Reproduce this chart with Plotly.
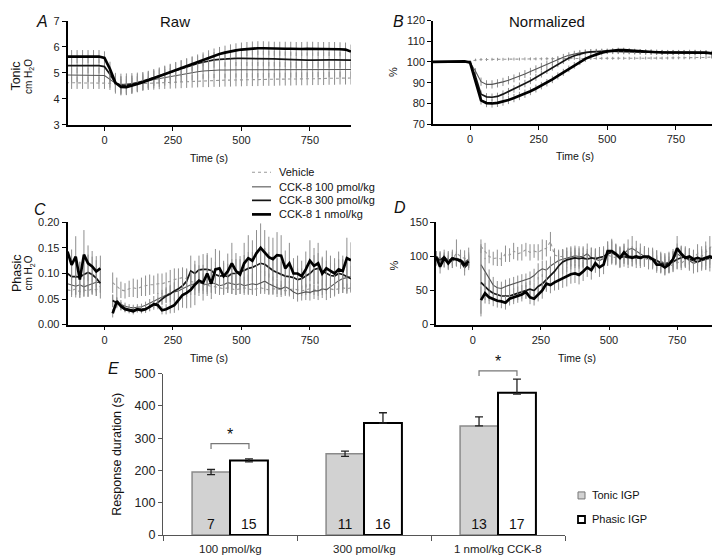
import plotly.graph_objects as go

# ---------------- DATA ----------------
# Panels A/B: time grid (s)
t_ab = list(range(-140, 901, 20))

A_veh = [4.62, 4.62, 4.62, 4.62, 4.62, 4.62, 4.62,
         4.62, 4.6, 4.56, 4.55, 4.56, 4.57, 4.58, 4.59, 4.6, 4.61, 4.62, 4.63, 4.64, 4.65, 4.66,
         4.67, 4.68, 4.69, 4.7, 4.7, 4.71, 4.71, 4.72, 4.72, 4.73, 4.73, 4.74, 4.74, 4.74, 4.75,
         4.75, 4.75, 4.76, 4.76, 4.76, 4.77, 4.77, 4.77, 4.78, 4.78, 4.78, 4.79, 4.79, 4.8, 4.8, 4.8]
A_100 = [4.92, 4.92, 4.92, 4.92, 4.92, 4.92, 4.92,
         4.9, 4.75, 4.6, 4.55, 4.56, 4.59, 4.63, 4.67, 4.71, 4.75, 4.79, 4.83, 4.87, 4.91, 4.95,
         4.98, 5.01, 5.04, 5.07, 5.09, 5.1, 5.11, 5.11, 5.12, 5.12, 5.12, 5.12, 5.12, 5.12, 5.12,
         5.12, 5.12, 5.12, 5.12, 5.12, 5.12, 5.12, 5.12, 5.13, 5.13, 5.13, 5.13, 5.13, 5.13, 5.13, 5.13]
A_300 = [5.28, 5.28, 5.28, 5.28, 5.28, 5.28, 5.28,
         5.24, 4.95, 4.6, 4.52, 4.52, 4.56, 4.62, 4.68, 4.75, 4.82, 4.89, 4.96, 5.03, 5.1, 5.17,
         5.24, 5.3, 5.36, 5.41, 5.46, 5.5, 5.52, 5.54, 5.55, 5.56, 5.56, 5.56, 5.56, 5.56, 5.55,
         5.55, 5.54, 5.53, 5.52, 5.5, 5.49, 5.49, 5.49, 5.49, 5.5, 5.5, 5.5, 5.5, 5.5, 5.49, 5.49]
A_1n = [5.63, 5.63, 5.63, 5.63, 5.63, 5.63, 5.63,
        5.58, 5.15, 4.62, 4.46, 4.45, 4.5, 4.57, 4.64, 4.72, 4.8, 4.88, 4.96, 5.04, 5.12, 5.2,
        5.28, 5.36, 5.44, 5.52, 5.6, 5.67, 5.73, 5.78, 5.83, 5.87, 5.9, 5.92, 5.94, 5.95, 5.95,
        5.94, 5.93, 5.93, 5.93, 5.93, 5.92, 5.92, 5.93, 5.93, 5.92, 5.92, 5.92, 5.92, 5.91, 5.9, 5.82]

A_veh_err = [0.24, 0.24, 0.24, 0.24, 0.24, 0.24, 0.24,
             0.24, 0.26, 0.3, 0.32, 0.32, 0.3, 0.28, 0.27, 0.26, 0.26, 0.25, 0.25, 0.25, 0.25, 0.25,
             0.25, 0.25, 0.25, 0.25, 0.25, 0.25, 0.25, 0.25, 0.25, 0.25, 0.25, 0.25, 0.25, 0.25, 0.25,
             0.25, 0.25, 0.25, 0.25, 0.25, 0.25, 0.25, 0.25, 0.25, 0.25, 0.25, 0.25, 0.25, 0.25, 0.25, 0.25]
A_100_err = [0.28, 0.28, 0.28, 0.28, 0.28, 0.28, 0.28,
             0.28, 0.32, 0.4, 0.42, 0.42, 0.4, 0.38, 0.36, 0.35, 0.34, 0.33, 0.32, 0.31, 0.3, 0.3,
             0.3, 0.3, 0.3, 0.3, 0.3, 0.3, 0.3, 0.3, 0.3, 0.3, 0.3, 0.3, 0.3, 0.3, 0.3,
             0.3, 0.3, 0.3, 0.3, 0.3, 0.3, 0.3, 0.3, 0.3, 0.3, 0.3, 0.3, 0.3, 0.3, 0.3, 0.3]
A_300_err = [0.3, 0.3, 0.3, 0.3, 0.3, 0.3, 0.3,
             0.3, 0.32, 0.34, 0.34, 0.34, 0.34, 0.34, 0.33, 0.33, 0.33, 0.32, 0.32, 0.32, 0.32, 0.32,
             0.31, 0.31, 0.3, 0.3, 0.3, 0.3, 0.3, 0.3, 0.3, 0.3, 0.3, 0.3, 0.3, 0.3, 0.3,
             0.3, 0.3, 0.3, 0.3, 0.3, 0.3, 0.3, 0.3, 0.3, 0.3, 0.3, 0.3, 0.3, 0.3, 0.3, 0.3]
A_1n_err = [0.25, 0.25, 0.25, 0.25, 0.25, 0.25, 0.25,
            0.25, 0.28, 0.3, 0.3, 0.3, 0.3, 0.3, 0.3, 0.3, 0.29, 0.29, 0.29, 0.28, 0.28, 0.28,
            0.28, 0.28, 0.27, 0.27, 0.27, 0.27, 0.27, 0.27, 0.27, 0.27, 0.27, 0.27, 0.27, 0.27, 0.27,
            0.27, 0.27, 0.27, 0.27, 0.27, 0.27, 0.27, 0.27, 0.27, 0.27, 0.27, 0.27, 0.27, 0.27, 0.27, 0.27]

B_veh = [100, 100, 100, 100, 100, 100, 100,
         100.5, 101, 101.2, 101.2, 101.3, 101.3, 101.3, 101.4, 101.4, 101.4, 101.5, 101.5, 101.5,
         101.5, 101.6, 101.6, 101.6, 101.6, 101.7, 101.7, 101.7, 101.7, 101.8, 101.8, 101.8, 101.8,
         101.8, 101.8, 101.8, 101.8, 101.8, 101.9, 101.9, 101.9, 101.9, 101.9, 101.9, 102, 102, 102,
         102, 102, 102.1, 102.2, 102.4, 102.8]
B_100 = [100, 100, 100, 100, 100, 100.1, 100.2,
         99.8, 95.5, 90.5, 89.2, 89.2, 89.7, 90.4, 91.2, 92.1, 93.1, 94.2, 95.4, 96.6, 97.8, 99,
         100.2, 101.3, 102.3, 103.2, 103.9, 104.4, 104.7, 104.9, 105, 105.1, 105.1, 105, 105,
         104.9, 104.9, 104.8, 104.8, 104.7, 104.7, 104.6, 104.6, 104.5, 104.5, 104.5, 104.4, 104.4,
         104.3, 104.3, 104.2, 104, 103.6]
B_300 = [100, 100, 100, 100, 100, 100.1, 100.2,
         99.7, 93, 84.5, 83.2, 83, 83.4, 84.5, 85.7, 87, 88.3, 89.6, 91, 92.6, 94.2, 95.8,
         97.4, 99, 100.5, 101.9, 103, 103.9, 104.5, 104.9, 105.1, 105.2, 105.2, 105.2, 105.1,
         105.1, 105, 105, 104.9, 104.9, 104.8, 104.8, 104.7, 104.7, 104.7, 104.7, 104.6, 104.6,
         104.6, 104.5, 104.4, 104.2, 103.6]
B_1n = [100, 100, 100, 100, 100, 100.1, 100.3,
        99.8, 91, 81.5, 80.2, 80, 80.3, 80.9, 81.7, 82.6, 83.6, 84.7, 85.9, 87.2, 88.6, 90,
        91.6, 93.3, 95, 96.7, 98.4, 100, 101.5, 102.7, 103.7, 104.5, 105.1, 105.5, 105.7, 105.7,
        105.5, 105.2, 105, 104.9, 104.8, 104.7, 104.6, 104.6, 104.6, 104.6, 104.6, 104.7, 104.7,
        104.6, 104.5, 104.2, 103.3]

B_veh_err = [0, 0, 0, 0, 0, 0, 0,
             0.3, 0.6, 0.7, 0.7, 0.7, 0.7, 0.7, 0.7, 0.7, 0.7, 0.7, 0.7, 0.7, 0.7, 0.7,
             0.7, 0.7, 0.7, 0.7, 0.7, 0.7, 0.7, 0.7, 0.7, 0.7, 0.7, 0.7, 0.7, 0.7, 0.7,
             0.7, 0.7, 0.7, 0.7, 0.7, 0.7, 0.7, 0.7, 0.7, 0.7, 0.7, 0.7, 0.7, 0.7, 0.7, 0.7]
B_100_err = [0, 0, 0, 0, 0, 0, 0,
             0.3, 1.5, 2, 2, 2, 2, 2, 2, 1.9, 1.9, 1.9, 1.8, 1.8, 1.8, 1.7,
             1.7, 1.6, 1.6, 1.5, 1.5, 1.4, 1.4, 1.3, 1.3, 1.2, 1.2, 1.2, 1.2, 1.2, 1.2,
             1.2, 1.2, 1.2, 1.2, 1.2, 1.2, 1.2, 1.2, 1.2, 1.2, 1.2, 1.2, 1.2, 1.2, 1.2, 1.2]
B_300_err = [0, 0, 0, 0, 0, 0, 0,
             0.3, 1.3, 1.8, 1.8, 1.8, 1.8, 1.8, 1.8, 1.8, 1.8, 1.8, 1.7, 1.7, 1.7, 1.6,
             1.6, 1.5, 1.5, 1.4, 1.4, 1.3, 1.3, 1.2, 1.2, 1.2, 1.1, 1.1, 1.1, 1.1, 1.1,
             1.1, 1.1, 1.1, 1.1, 1.1, 1.1, 1.1, 1.1, 1.1, 1.1, 1.1, 1.1, 1.1, 1.1, 1.1, 1.1]
B_1n_err = [0, 0, 0, 0, 0, 0, 0,
            0.3, 1.5, 2, 2, 2, 2, 2, 2, 2, 2, 2, 1.9, 1.9, 1.8, 1.8,
            1.8, 1.7, 1.7, 1.6, 1.6, 1.5, 1.5, 1.4, 1.4, 1.3, 1.3, 1.2, 1.2, 1.2, 1.2,
            1.2, 1.2, 1.2, 1.2, 1.2, 1.2, 1.2, 1.2, 1.2, 1.2, 1.2, 1.2, 1.2, 1.2, 1.2, 1.2]

# Panels C/D: pre-infusion and post-infusion time points (s)
t_pre = [-135, -120, -105, -90, -75, -60, -45, -30, -15]
t_post = list(range(30, 901, 15))

C_veh_pre = [0.068, 0.066, 0.07, 0.064, 0.068, 0.066, 0.07, 0.068, 0.075]
C_100_pre = [0.08, 0.078, 0.075, 0.078, 0.074, 0.077, 0.08, 0.083, 0.082]
C_300_pre = [0.1, 0.094, 0.094, 0.093, 0.098, 0.102, 0.098, 0.091, 0.081]
C_1n_pre = [0.143, 0.117, 0.133, 0.088, 0.137, 0.12, 0.114, 0.104, 0.11]
C_veh_pre_err = [0.012, 0.012, 0.012, 0.012, 0.012, 0.012, 0.012, 0.012, 0.012]
C_100_pre_err = [0.02, 0.02, 0.022, 0.02, 0.02, 0.022, 0.02, 0.02, 0.02]
C_300_pre_err = [0.03, 0.03, 0.035, 0.03, 0.035, 0.035, 0.035, 0.035, 0.03]
C_1n_pre_err = [0.02, 0.03, 0.04, 0.035, 0.048, 0.035, 0.03, 0.03, 0.025]

C_veh = [0.082, 0.074, 0.068, 0.066, 0.07, 0.072, 0.07, 0.074, 0.076, 0.078,
         0.078, 0.08, 0.08, 0.082, 0.085, 0.088, 0.09, 0.092, 0.09, 0.085,
         0.082, 0.08, 0.078, 0.076, 0.075, 0.074, 0.072, 0.07, 0.072, 0.07,
         0.068, 0.07, 0.072, 0.07, 0.068, 0.07, 0.072, 0.07, 0.068, 0.07,
         0.07, 0.068, 0.066, 0.068, 0.07, 0.068, 0.066, 0.068, 0.07, 0.068,
         0.066, 0.068, 0.07, 0.07, 0.068, 0.07, 0.072, 0.07, 0.072]
C_100 = [0.046, 0.044, 0.04, 0.036, 0.034, 0.033, 0.034, 0.035, 0.038, 0.042,
         0.046, 0.05, 0.054, 0.058, 0.062, 0.064, 0.066, 0.07, 0.074, 0.078,
         0.08, 0.082, 0.08, 0.078, 0.082, 0.08, 0.076, 0.078, 0.082, 0.08,
         0.078, 0.08, 0.076, 0.078, 0.08, 0.078, 0.082, 0.085, 0.08, 0.076,
         0.072, 0.07, 0.074, 0.07, 0.064, 0.06, 0.062, 0.064, 0.063, 0.066,
         0.066, 0.07, 0.068, 0.074, 0.08, 0.086, 0.09, 0.092, 0.094]
C_300 = [0.047, 0.042, 0.036, 0.032, 0.03, 0.029, 0.03, 0.03, 0.031, 0.034,
         0.038, 0.043, 0.05, 0.056, 0.06, 0.066, 0.07, 0.076, 0.085, 0.105,
         0.1, 0.107, 0.108, 0.108, 0.106, 0.098, 0.095, 0.096, 0.094, 0.1,
         0.1, 0.104, 0.106, 0.11, 0.112, 0.116, 0.12, 0.118, 0.112, 0.106,
         0.102, 0.098, 0.095, 0.094, 0.092, 0.088, 0.09, 0.095, 0.1, 0.108,
         0.11, 0.105, 0.1, 0.096, 0.095, 0.1, 0.098, 0.094, 0.09]
C_1n = [0.022, 0.046, 0.036, 0.03, 0.028, 0.026, 0.03, 0.028, 0.03, 0.035,
        0.04, 0.038, 0.028, 0.03, 0.034, 0.038, 0.048, 0.058, 0.062, 0.068,
        0.078, 0.086, 0.082, 0.1, 0.08, 0.108, 0.11, 0.095, 0.104, 0.12,
        0.105, 0.098, 0.12, 0.13, 0.125, 0.14, 0.15, 0.14, 0.132, 0.128,
        0.136, 0.135, 0.11, 0.12, 0.1, 0.1, 0.095, 0.108, 0.125, 0.115,
        0.12, 0.1, 0.11, 0.105, 0.1, 0.108, 0.105, 0.13, 0.126]

C_veh_err = [0.02, 0.018, 0.016, 0.015, 0.016, 0.018, 0.018, 0.018, 0.02, 0.02,
             0.018, 0.02, 0.02, 0.02, 0.022, 0.022, 0.02, 0.02, 0.018, 0.016,
             0.015, 0.014, 0.012, 0.012, 0.012, 0.012, 0.01, 0.01, 0.01, 0.01,
             0.01, 0.01, 0.01, 0.01, 0.01, 0.01, 0.01, 0.01, 0.01, 0.01,
             0.01, 0.01, 0.01, 0.01, 0.01, 0.01, 0.01, 0.01, 0.01, 0.01,
             0.01, 0.01, 0.01, 0.01, 0.01, 0.01, 0.01, 0.01, 0.01]
C_100_err = [0.012, 0.01, 0.008, 0.007, 0.006, 0.006, 0.006, 0.006, 0.007, 0.008,
             0.01, 0.012, 0.014, 0.015, 0.016, 0.018, 0.018, 0.02, 0.02, 0.02,
             0.022, 0.02, 0.02, 0.022, 0.02, 0.02, 0.018, 0.02, 0.02, 0.02,
             0.02, 0.02, 0.018, 0.02, 0.02, 0.022, 0.022, 0.02, 0.02, 0.018,
             0.018, 0.016, 0.015, 0.015, 0.014, 0.015, 0.015, 0.016, 0.016, 0.016,
             0.018, 0.018, 0.02, 0.022, 0.025, 0.025, 0.028, 0.03, 0.03]
C_300_err = [0.012, 0.01, 0.008, 0.007, 0.006, 0.006, 0.006, 0.006, 0.007, 0.008,
             0.009, 0.01, 0.012, 0.014, 0.016, 0.018, 0.02, 0.022, 0.025, 0.03,
             0.025, 0.028, 0.03, 0.028, 0.025, 0.025, 0.022, 0.025, 0.025, 0.028,
             0.028, 0.03, 0.03, 0.032, 0.03, 0.032, 0.035, 0.032, 0.03, 0.028,
             0.028, 0.025, 0.025, 0.025, 0.022, 0.022, 0.02, 0.022, 0.025, 0.028,
             0.03, 0.028, 0.025, 0.025, 0.025, 0.028, 0.03, 0.028, 0.025]
C_1n_err = [0.008, 0.01, 0.008, 0.006, 0.006, 0.006, 0.006, 0.006, 0.007, 0.008,
            0.008, 0.008, 0.008, 0.01, 0.012, 0.015, 0.02, 0.025, 0.03, 0.035,
            0.04, 0.03, 0.035, 0.04, 0.03, 0.04, 0.035, 0.03, 0.035, 0.04,
            0.035, 0.03, 0.04, 0.045, 0.04, 0.045, 0.048, 0.045, 0.04, 0.042,
            0.045, 0.04, 0.035, 0.04, 0.03, 0.035, 0.03, 0.035, 0.04, 0.035,
            0.04, 0.03, 0.035, 0.03, 0.03, 0.035, 0.03, 0.04, 0.035]

D_veh_pre = [100, 96, 92, 98, 95, 105, 100, 97, 98]
D_100_pre = [96, 98, 94, 96, 93, 98, 95, 92, 96]
D_300_pre = [98, 94, 100, 92, 98, 96, 92, 84, 90]
D_1n_pre = [100, 85, 98, 90, 97, 96, 94, 88, 93]
D_veh_pre_err = [8, 10, 8, 10, 12, 20, 10, 12, 15]
D_100_pre_err = [10, 10, 10, 10, 10, 10, 10, 10, 10]
D_300_pre_err = [10, 12, 10, 10, 12, 10, 10, 12, 10]
D_1n_pre_err = [8, 10, 8, 10, 10, 10, 8, 10, 10]

D_veh = [115, 108, 100, 97, 98, 96, 104, 102, 108, 104,
         106, 110, 106, 108, 106, 110, 112, 122, 102, 100,
         100, 98, 97, 100, 96, 95, 98, 96, 99, 100,
         95, 102, 100, 98, 104, 100, 98, 102, 100, 96,
         98, 94, 96, 92, 94, 90, 86, 88, 92, 90,
         95, 100, 98, 104, 100, 106, 112, 118, 125]
D_100 = [88, 78, 66, 58, 54, 53, 56, 58, 60, 62,
         64, 65, 68, 72, 78, 82, 80, 86, 90, 94,
         96, 98, 100, 101, 100, 100, 104, 98, 96, 94,
         97, 102, 108, 104, 100, 104, 110, 112, 108, 104,
         100, 96, 98, 94, 92, 90, 92, 96, 104, 100,
         98, 94, 90, 92, 96, 98, 96, 100, 98]
D_300 = [62, 56, 50, 46, 44, 42, 42, 42, 44, 46,
         48, 50, 52, 50, 56, 60, 66, 72, 78, 86,
         92, 95, 97, 98, 97, 98, 96, 98, 97, 99,
         100, 104, 106, 102, 98, 100, 98, 100, 98, 98,
         100, 98, 96, 94, 90, 88, 90, 92, 96, 98,
         100, 96, 94, 92, 94, 96, 98, 97, 96]
D_1n = [36, 46, 40, 37, 35, 34, 32, 38, 40, 42,
        44, 48, 40, 38, 44, 50, 60, 58, 62, 65,
        68, 70, 74, 75, 73, 78, 84, 80, 90, 84,
        88, 108, 108, 104, 98, 106, 100, 98, 100, 98,
        100, 100, 96, 88, 88, 84, 88, 96, 112, 104,
        98, 100, 96, 98, 96, 98, 100, 98, 96]

D_veh_err = [10, 12, 10, 10, 12, 10, 12, 10, 12, 10,
             12, 10, 12, 10, 12, 15, 12, 14, 10, 10,
             10, 10, 10, 10, 10, 10, 10, 10, 10, 10,
             10, 10, 10, 10, 10, 10, 10, 10, 10, 10,
             10, 10, 10, 10, 10, 10, 10, 10, 10, 10,
             10, 12, 12, 14, 15, 16, 18, 18, 18]
D_100_err = [30, 20, 15, 12, 10, 10, 10, 10, 10, 10,
             10, 10, 10, 10, 12, 12, 14, 14, 14, 14,
             15, 15, 15, 15, 15, 15, 15, 15, 15, 15,
             15, 15, 18, 15, 15, 15, 15, 18, 15, 15,
             15, 15, 15, 15, 15, 15, 15, 15, 15, 15,
             15, 15, 15, 15, 15, 18, 18, 18, 18]
D_300_err = [50, 20, 15, 12, 10, 10, 10, 10, 10, 10,
             10, 12, 12, 12, 14, 14, 16, 16, 18, 18,
             18, 18, 16, 15, 15, 15, 15, 15, 15, 15,
             15, 18, 18, 15, 15, 15, 15, 15, 15, 15,
             15, 15, 15, 15, 15, 15, 15, 15, 15, 15,
             15, 15, 15, 15, 15, 15, 15, 15, 15]
D_1n_err = [20, 15, 10, 10, 10, 10, 10, 10, 10, 10,
            10, 10, 10, 10, 10, 12, 12, 12, 12, 14,
            14, 14, 14, 14, 14, 14, 14, 14, 14, 14,
            14, 14, 14, 14, 14, 12, 12, 12, 12, 12,
            12, 12, 12, 12, 12, 12, 12, 12, 18, 12,
            12, 12, 12, 12, 12, 12, 12, 12, 12]

# Panel E: response duration (s)
dose_labels = ["100 pmol/kg", "300 pmol/kg", "1 nmol/kg CCK-8"]
tonic_dur = [195, 252, 338]
tonic_err_up = [8, 8, 28]
tonic_err_dn = [8, 8, 0]
phasic_dur = [231, 347, 441]
phasic_err_up = [5, 32, 42]
phasic_err_dn = [4, 0, 4]
tonic_n = [7, 11, 13]
phasic_n = [15, 16, 17]
sig_groups = [0, 2]
sig_levels = [283, 509]

series_names = ["Vehicle", "CCK-8 100 pmol/kg", "CCK-8 300 pmol/kg", "CCK-8 1 nmol/kg"]

# ---------------- STYLE ----------------
FONT = "Liberation Sans, Arial, Helvetica, sans-serif"
W, H = 720, 558
LINE_STYLES = [
    dict(color="#9a9a9a", width=1.1, dash="dot"),
    dict(color="#555555", width=1.1),
    dict(color="#151515", width=1.7),
    dict(color="#000000", width=2.7),
]
ERR_COLOR = "#8e8e8e"

# screen-position helpers (page is shown with a small offset)
OFF_X, OFF_Y, SCALE_Y = 8.0, 15.0, 0.973


def fx(px):
    return (px - OFF_X) / W


def fy(py):
    return 1 - ((py - OFF_Y) / SCALE_Y) / H


fig = go.Figure()


def add_line(x, y, err, style, xa, ya):
    fig.add_trace(go.Scatter(
        x=x, y=y, mode="lines", line=style, connectgaps=False,
        error_y=dict(type="data", array=err, visible=True, color=ERR_COLOR,
                     thickness=1, width=0),
        xaxis=xa, yaxis=ya, showlegend=False, hoverinfo="skip"))


A_list = [(A_veh, A_veh_err), (A_100, A_100_err), (A_300, A_300_err), (A_1n, A_1n_err)]
B_list = [(B_veh, B_veh_err), (B_100, B_100_err), (B_300, B_300_err), (B_1n, B_1n_err)]
C_list = [(C_veh_pre, C_veh_pre_err, C_veh, C_veh_err), (C_100_pre, C_100_pre_err, C_100, C_100_err),
          (C_300_pre, C_300_pre_err, C_300, C_300_err), (C_1n_pre, C_1n_pre_err, C_1n, C_1n_err)]
D_list = [(D_veh_pre, D_veh_pre_err, D_veh, D_veh_err), (D_100_pre, D_100_pre_err, D_100, D_100_err),
          (D_300_pre, D_300_pre_err, D_300, D_300_err), (D_1n_pre, D_1n_pre_err, D_1n, D_1n_err)]

for i, (y, e) in enumerate(A_list):
    add_line(t_ab, y, e, LINE_STYLES[i], "x", "y")
for i, (y, e) in enumerate(B_list):
    add_line(t_ab, y, e, LINE_STYLES[i], "x2", "y2")
x_cd = t_pre + [None] + t_post
for i, (yp, ep, yq, eq) in enumerate(C_list):
    add_line(x_cd, yp + [None] + yq, ep + [0] + eq, LINE_STYLES[i], "x3", "y3")
for i, (yp, ep, yq, eq) in enumerate(D_list):
    add_line(x_cd, yp + [None] + yq, ep + [0] + eq, LINE_STYLES[i], "x4", "y4")

# Panel E bars
BAR_W = 0.283
grp = [0, 1, 2]
fig.add_trace(go.Bar(
    x=grp, y=tonic_dur, width=BAR_W, offset=-BAR_W,
    marker=dict(color="#d2d2d2", line=dict(color="#8a8a8a", width=1.5)),
    text=[str(n) for n in tonic_n], textposition="inside", insidetextanchor="start",
    textangle=0, textfont=dict(size=14, color="#111", family=FONT),
    error_y=dict(type="data", symmetric=False, array=tonic_err_up, arrayminus=tonic_err_dn,
                 color="#222", thickness=1.3, width=4),
    xaxis="x5", yaxis="y5", showlegend=False, hoverinfo="skip"))
fig.add_trace(go.Bar(
    x=grp, y=phasic_dur, width=BAR_W, offset=0,
    marker=dict(color="white", line=dict(color="#000", width=2)),
    text=[str(n) for n in phasic_n], textposition="inside", insidetextanchor="start",
    textangle=0, textfont=dict(size=14, color="#111", family=FONT),
    error_y=dict(type="data", symmetric=False, array=phasic_err_up, arrayminus=phasic_err_dn,
                 color="#222", thickness=1.3, width=4),
    xaxis="x5", yaxis="y5", showlegend=False, hoverinfo="skip"))

# ---------------- AXES ----------------
axbase = dict(showline=True, linecolor="#000", linewidth=1.6, ticks="outside", ticklen=4,
              tickwidth=1.4, tickcolor="#000", showgrid=False, zeroline=False,
              tickfont=dict(size=11, color="#222", family=FONT))
time_ticks = dict(tickmode="array", tickvals=[0, 250, 500, 750], range=[-135, 900])

A_X = (67.5, 351)
B_X = (433, 717)
C_X = (67.5, 351)
D_X = (436, 718)
A_Y = (21, 124.5)
B_Y = (20.5, 124)
CD_Y = (222, 324)
E_X = (163, 565)
E_Y = (373, 534)


def dx(a):
    return [fx(a[0]), fx(a[1])]


def dy(a):
    return [fy(a[1]), fy(a[0])]


fig.update_layout(
    xaxis=dict(axbase, domain=dx(A_X), anchor="y", **time_ticks),
    yaxis=dict(axbase, domain=dy(A_Y), anchor="x", range=[3, 7], dtick=1),
    xaxis2=dict(axbase, domain=dx(B_X), anchor="y2", **time_ticks),
    yaxis2=dict(axbase, domain=dy(B_Y), anchor="x2", range=[70, 120], dtick=10),
    xaxis3=dict(axbase, domain=dx(C_X), anchor="y3", **time_ticks),
    yaxis3=dict(axbase, domain=dy(CD_Y), anchor="x3", range=[0, 0.2],
                dtick=0.05, tickformat=".2f"),
    xaxis4=dict(axbase, domain=dx(D_X), anchor="y4", **time_ticks),
    yaxis4=dict(axbase, domain=dy(CD_Y), anchor="x4", range=[0, 150], dtick=50),
    xaxis5=dict(domain=dx(E_X), anchor="y5", range=[-0.5, 2.5],
                showline=True, linecolor="#555", linewidth=1.2, showgrid=False, zeroline=False,
                ticks="outside", ticklen=5, tickcolor="#555", tickwidth=1.2,
                tickmode="array", tickvals=[-0.5, 0.5, 1.5, 2.5], showticklabels=False),
    yaxis5=dict(domain=dy(E_Y), anchor="x5", range=[0, 500], dtick=100,
                showline=True, linecolor="#555", linewidth=1.2, showgrid=False, zeroline=False,
                ticks="outside", ticklen=4, tickcolor="#555", tickwidth=1.2,
                tickfont=dict(size=12.5, color="#222", family=FONT)),
    barmode="overlay",
    width=W, height=H, autosize=False,
    margin=dict(l=0, r=0, t=0, b=0),
    paper_bgcolor="white", plot_bgcolor="white",
    font=dict(family=FONT, color="#222"),
    showlegend=False,
)

# ---------------- ANNOTATIONS / SHAPES ----------------
ann = []
shapes = []


def txt(text, px, py, size, angle=0, xanchor="center", italic=False, color="#111"):
    if italic:
        text = "<i>" + text + "</i>"
    ann.append(dict(text=text, x=fx(px), y=fy(py), xref="paper", yref="paper",
                    showarrow=False, textangle=angle, xanchor=xanchor, yanchor="middle",
                    font=dict(size=size, family=FONT, color=color)))


txt("A", 42, 21, 16, italic=True)
txt("B", 399, 21, 16, italic=True)
txt("C", 40, 209, 16, italic=True)
txt("D", 400, 207, 16, italic=True)
txt("E", 113, 368, 16, italic=True)
txt("Raw", 175, 21, 15)
txt("Normalized", 547, 21, 15)
txt("Tonic", 16.5, 76, 12.5, angle=-90)
txt("cm H<sub>2</sub>O", 29, 77, 10, angle=-90)
txt("Phasic", 16.5, 273, 12.5, angle=-90)
txt("cm H<sub>2</sub>O", 29, 273, 10, angle=-90)
txt("%", 393, 72, 11, angle=-90)
txt("%", 394, 265, 11, angle=-90)
txt("Time (s)", 209, 158, 10.5)
txt("Time (s)", 575, 156, 10.5)
txt("Time (s)", 209, 357, 10.5)
txt("Time (s)", 577, 357, 10.5)
txt("Response duration (s)", 117, 453, 12.5, angle=-90)

# category labels of panel E
for g, lab in zip(grp, dose_labels):
    ann.append(dict(text=lab, x=g, y=fy(548), xref="x5", yref="paper", showarrow=False,
                    xanchor="center", yanchor="middle", font=dict(size=11.5, family=FONT, color="#222")))

# line legend
leg_y = [172, 186.5, 200, 214]
for i, name in enumerate(series_names):
    st = LINE_STYLES[i]
    shapes.append(dict(type="line", xref="paper", yref="paper", x0=fx(252), x1=fx(271),
                       y0=fy(leg_y[i]), y1=fy(leg_y[i]),
                       line=dict(color=st["color"], width=st["width"], dash=st.get("dash", "solid"))))
    txt(name, 277, leg_y[i], 11, xanchor="left")

# bar legend
shapes.append(dict(type="rect", xref="paper", yref="paper", x0=fx(578), x1=fx(585),
                   y0=fy(498), y1=fy(491), fillcolor="#d2d2d2", line=dict(color="#777", width=1)))
shapes.append(dict(type="rect", xref="paper", yref="paper", x0=fx(578), x1=fx(585),
                   y0=fy(522), y1=fy(515), fillcolor="white", line=dict(color="#000", width=1.8)))
txt("Tonic IGP", 590, 494.5, 11, xanchor="left")
txt("Phasic IGP", 590, 518.5, 11, xanchor="left")

# significance brackets (data units converted through panel E's y scale)
e_y0, e_y1 = dy(E_Y)


def ey(v):
    return e_y0 + v / 500.0 * (e_y1 - e_y0)


for g, lev in zip(sig_groups, sig_levels):
    xl, xr = g - BAR_W / 2, g + BAR_W / 2
    path = "M{},{} L{},{} L{},{} L{},{}".format(xl, ey(lev - 16), xl, ey(lev), xr, ey(lev), xr, ey(lev - 16))
    shapes.append(dict(type="path", xref="x5", yref="paper", path=path,
                       line=dict(color="#777", width=1.2)))
    ann.append(dict(text="*", x=g, y=ey(lev + 28), xref="x5", yref="paper", showarrow=False,
                    xanchor="center", yanchor="middle", font=dict(size=16, family=FONT, color="#111")))

fig.update_layout(annotations=ann, shapes=shapes)

fig.write_html("out.html")
